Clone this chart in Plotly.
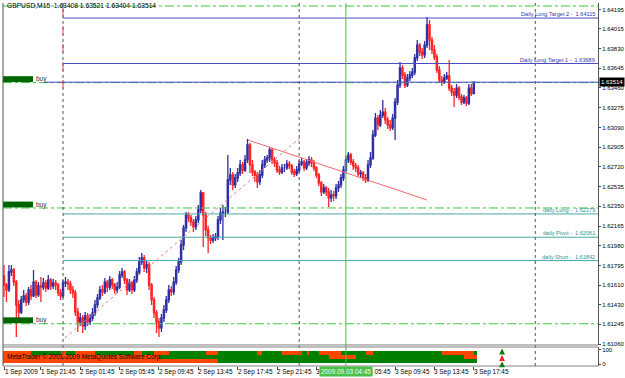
import plotly.graph_objects as go

# ---------------- data ----------------
first_open = 1.61698
close = [1.61613,1.61567,1.61735,1.61754,1.61641,1.61426,1.61360,1.61473,1.61511,1.61454,
         1.61567,1.61511,1.61641,1.61520,1.61604,1.61594,1.61632,1.61585,1.61660,1.61604,
         1.61632,1.61613,1.61539,1.61511,1.61632,1.61641,1.61623,1.61567,1.61539,1.61360,
         1.61267,1.61304,1.61230,1.61323,1.61267,1.61304,1.61351,1.61426,1.61492,1.61567,
         1.61548,1.61641,1.61594,1.61660,1.61613,1.61567,1.61594,1.61707,1.61735,1.61660,
         1.61567,1.61632,1.61567,1.61660,1.61735,1.61829,1.61867,1.61773,1.61801,1.61613,
         1.61473,1.61351,1.61267,1.61211,1.61304,1.61379,1.61473,1.61567,1.61548,1.61641,
         1.61754,1.61829,1.61988,1.62148,1.62269,1.62241,1.62204,1.62157,1.62223,1.62316,
         1.62476,1.62269,1.62129,1.62054,1.62035,1.62054,1.62063,1.62223,1.62288,1.62297,
         1.62297,1.62598,1.62644,1.62551,1.62616,1.62663,1.62738,1.62691,1.62785,1.62925,
         1.62738,1.62672,1.62644,1.62579,1.62644,1.62738,1.62785,1.62804,1.62879,1.62785,
         1.62757,1.62691,1.62672,1.62710,1.62710,1.62748,1.62729,1.62672,1.62654,1.62691,
         1.62748,1.62766,1.62710,1.62757,1.62785,1.62757,1.62710,1.62644,1.62570,1.62485,
         1.62523,1.62485,1.62429,1.62457,1.62448,1.62523,1.62551,1.62616,1.62691,1.62785,
         1.62832,1.62766,1.62729,1.62710,1.62654,1.62663,1.62616,1.62598,1.62738,1.62804,
         1.63019,1.63178,1.63113,1.63206,1.63234,1.63160,1.63113,1.63085,1.63178,1.63328,
         1.63487,1.63647,1.63581,1.63487,1.63553,1.63581,1.63609,1.63741,1.63862,1.63797,
         1.63769,1.63862,1.64050,1.63909,1.63816,1.63750,1.63628,1.63534,1.63515,1.63553,
         1.63572,1.63459,1.63422,1.63394,1.63459,1.63375,1.63328,1.63366,1.63319,1.63459,
         1.63408,1.63514]
high = [1.61801,1.61632,1.61801,1.61801,1.61773,1.61660,1.61473,1.61511,1.61567,1.61539,
        1.61594,1.61613,1.61754,1.61660,1.61641,1.61688,1.61679,1.61660,1.61707,1.61679,
        1.61669,1.61660,1.61632,1.61576,1.61660,1.61688,1.61669,1.61651,1.61604,1.61567,
        1.61398,1.61351,1.61332,1.61360,1.61351,1.61342,1.61398,1.61473,1.61529,1.61604,
        1.61613,1.61679,1.61660,1.61698,1.61679,1.61632,1.61641,1.61745,1.61773,1.61754,
        1.61679,1.61669,1.61651,1.61698,1.61773,1.61876,1.61914,1.61895,1.61848,1.61829,
        1.61632,1.61501,1.61379,1.61304,1.61342,1.61426,1.61511,1.61613,1.61604,1.61688,
        1.61792,1.61867,1.62035,1.62176,1.62297,1.62297,1.62269,1.62232,1.62260,1.62363,
        1.62504,1.62485,1.62297,1.62166,1.62082,1.62091,1.62101,1.62260,1.62335,1.62363,
        1.62344,1.62832,1.62710,1.62672,1.62654,1.62710,1.62785,1.62766,1.62832,1.62982,
        1.62944,1.62785,1.62691,1.62672,1.62691,1.62785,1.62823,1.62832,1.62906,1.62897,
        1.62813,1.62785,1.62729,1.62748,1.62748,1.62785,1.62776,1.62748,1.62701,1.62729,
        1.62785,1.62804,1.62785,1.62795,1.62823,1.62813,1.62785,1.62729,1.62663,1.62588,
        1.62560,1.62542,1.62523,1.62504,1.62495,1.62560,1.62588,1.62654,1.62729,1.62823,
        1.62860,1.62851,1.62795,1.62757,1.62738,1.62691,1.62682,1.62654,1.62785,1.62860,
        1.63066,1.63225,1.63206,1.63253,1.63347,1.63272,1.63188,1.63160,1.63216,1.63366,
        1.63534,1.63703,1.63675,1.63609,1.63591,1.63619,1.63647,1.63778,1.63909,1.63881,
        1.63834,1.63900,1.64125,1.64097,1.63937,1.63862,1.63778,1.63666,1.63572,1.63591,
        1.63609,1.63722,1.63487,1.63459,1.63497,1.63478,1.63403,1.63394,1.63384,1.63497,
        1.63497,1.63521]
low = [1.61501,1.61454,1.61548,1.61698,1.61604,1.61126,1.61286,1.61342,1.61445,1.61417,
       1.61426,1.61473,1.61501,1.61492,1.61501,1.61454,1.61567,1.61548,1.61567,1.61567,
       1.61576,1.61567,1.61511,1.61473,1.61492,1.61594,1.61567,1.61529,1.61492,1.61323,
       1.61173,1.61230,1.61164,1.61192,1.61230,1.61239,1.61276,1.61323,1.61398,1.61473,
       1.61511,1.61529,1.61548,1.61567,1.61576,1.61529,1.61539,1.61576,1.61679,1.61623,
       1.61520,1.61548,1.61529,1.61548,1.61632,1.61707,1.61801,1.61735,1.61726,1.61567,
       1.61426,1.61304,1.61164,1.61126,1.61173,1.61267,1.61351,1.61445,1.61511,1.61520,
       1.61613,1.61726,1.61801,1.61942,1.62110,1.62204,1.62166,1.62110,1.62129,1.62194,
       1.62288,1.61969,1.62073,1.61914,1.61998,1.62007,1.62026,1.62035,1.62185,1.62035,
       1.62251,1.62279,1.62551,1.62504,1.62523,1.62579,1.62635,1.62654,1.62672,1.62757,
       1.62663,1.62635,1.62579,1.62523,1.62551,1.62616,1.62710,1.62757,1.62766,1.62748,
       1.62720,1.62663,1.62644,1.62654,1.62672,1.62691,1.62701,1.62644,1.62626,1.62635,
       1.62663,1.62729,1.62682,1.62691,1.62729,1.62720,1.62682,1.62616,1.62542,1.62448,
       1.62467,1.62448,1.62344,1.62391,1.62401,1.62420,1.62485,1.62523,1.62588,1.62663,
       1.62757,1.62738,1.62691,1.62672,1.62626,1.62616,1.62588,1.62570,1.62579,1.62710,
       1.62785,1.63000,1.63066,1.63094,1.63178,1.63122,1.63075,1.63057,1.63066,1.62972,
       1.63300,1.63459,1.63544,1.63459,1.63469,1.63525,1.63553,1.63581,1.63713,1.63759,
       1.63731,1.63741,1.63834,1.63816,1.63778,1.63722,1.63600,1.63506,1.63478,1.63497,
       1.63534,1.63431,1.63384,1.63281,1.63366,1.63347,1.63300,1.63310,1.63291,1.63300,
       1.63384,1.63404]
open_ = [first_open] + close[:-1]
bars = list(range(len(close)))

title_text = "GBPUSD,M15  1.63408 1.63521 1.63404 1.63514"
last_price = 1.63514

price_ticks = [1.64195,1.64015,1.63830,1.63645,1.63460,1.63275,1.63090,1.62905,1.62720,
               1.62535,1.62350,1.62165,1.61980,1.61795,1.61610,1.61430,1.61245,1.61060]

time_label_bars = [0,15,31,47,63,79,95,111,127,143,159,175,191]
time_labels = ["1 Sep 2009","1 Sep 21:45","2 Sep 01:45","2 Sep 05:45","2 Sep 09:45",
               "2 Sep 13:45","2 Sep 17:45","2 Sep 21:45","3 Sep 01:45","3 Sep 05:45",
               "3 Sep 09:45","3 Sep 13:45","3 Sep 17:45"]

# pivot levels
blue_levels = [("Daily Long Target 2 -  1.64115", 1.64115), ("Daily Long Target 1 -  1.63689", 1.63689)]
teal_levels = [("daily Long -  1.62279", 1.62279), ("daily Pivot -  1.62061", 1.62061),
               ("daily Short -  1.61842", 1.61842)]
buy_levels = [1.63510, 1.62335, 1.61250]
top_level = 1.64228
levels_start_bar = 24

# vertical separators (bar index)
day_bars = [24, 120, 216]
cross_bar = 139
cross_label = "2009.09.03 04:45"

# trend lines: (bar0, price0, bar1, price1)
trend_solid = (99.2, 1.62972, 172.0, 1.62410)
trend_dotted = (24.8, 1.61117, 120.3, 1.62991)

# indicator rows: boundaries in bar index, colours alternate starting with first
row1_bounds = [-0.4, 11, 23, 25, 29, 37, 53, 56, 61, 67, 82, 87, 103, 105, 113, 121, 123, 124, 128, 137, 147, 150, 178, 191, 192.4]
row1_first = "orange"
row2_bounds = [-0.4, 63, 132, 143, 187, 192.4]
row2_first = "orange"
row3_bounds = [-0.4, 87, 192.4]
row3_first = "orange"
row_levels = [96, 50, 4]
signal_bar = 202.5
signal_colors = ["#008000", "#FF2020", "#008000"]

X0, X1 = -0.41, 241.5
Y0, Y1 = 1.61051, 1.64256

UP = "#2F2FA6"
DOWN = "#FF2424"
GREEN_IND = "#008000"
ORANGE_IND = "#FF4500"
FONT = "Liberation Sans"

fig = go.Figure()
fig.add_trace(go.Candlestick(
    x=bars, open=open_, high=high, low=low, close=close,
    increasing=dict(line=dict(color=UP, width=1.3), fillcolor=UP),
    decreasing=dict(line=dict(color=DOWN, width=1.3), fillcolor=DOWN),
    whiskerwidth=0, hoverinfo="skip", showlegend=False,
    xaxis="x", yaxis="y"))

# indicator bars
def row_trace(bounds, first, level):
    cols = []
    c = first
    for i in range(len(bounds) - 1):
        cols.append(ORANGE_IND if c == "orange" else GREEN_IND)
        c = "green" if c == "orange" else "orange"
    return go.Bar(orientation="h", base=bounds[:-1],
                  x=[b - a for a, b in zip(bounds[:-1], bounds[1:])],
                  y=[level] * (len(bounds) - 1), width=30,
                  marker=dict(color=cols, line=dict(width=0)),
                  hoverinfo="skip", showlegend=False, xaxis="x", yaxis="y2")

for b, f, lv in zip([row1_bounds, row2_bounds, row3_bounds],
                    [row1_first, row2_first, row3_first], row_levels):
    fig.add_trace(row_trace(b, f, lv))

shapes = []
# horizontal levels
shapes.append(dict(type="line", xref="x", yref="y", x0=X0, x1=X1, y0=top_level, y1=top_level,
                   line=dict(color="#3CC83C", width=1, dash="dashdot")))
for lv in buy_levels:
    shapes.append(dict(type="line", xref="x", yref="y", x0=X0, x1=X1, y0=lv, y1=lv,
                       line=dict(color="#3CC83C", width=1, dash="dashdot")))
    shapes.append(dict(type="rect", xref="x", yref="y", x0=X0, x1=11.8, y0=lv + 0.00005, y1=lv + 0.00060,
                       line=dict(width=0), fillcolor="#006400"))
for _, lv in blue_levels:
    shapes.append(dict(type="line", xref="x", yref="y", x0=levels_start_bar, x1=X1, y0=lv, y1=lv,
                       line=dict(color="#4A4AC4", width=1)))
shapes.append(dict(type="line", xref="x", yref="y", x0=16.5, x1=X1, y0=last_price, y1=last_price,
                   line=dict(color="#4A4AC4", width=1)))
for _, lv in teal_levels:
    shapes.append(dict(type="line", xref="x", yref="y", x0=levels_start_bar, x1=X1, y0=lv, y1=lv,
                       line=dict(color="#48A8A8", width=1)))

# vertical lines
for db in day_bars:
    shapes.append(dict(type="line", xref="x", yref="paper", x0=db, x1=db, y0=0, y1=1,
                       line=dict(color="#555555", width=1, dash="dot")))
shapes.append(dict(type="line", xref="x", yref="y", x0=day_bars[0], x1=day_bars[0], y0=1.63450, y1=Y1,
                   line=dict(color="#E05050", width=1, dash="dash")))
shapes.append(dict(type="line", xref="x", yref="paper", x0=cross_bar, x1=cross_bar, y0=0, y1=1,
                   line=dict(color="#3CC83C", width=1)))
# trend lines
b0, p0, b1, p1 = trend_solid
shapes.append(dict(type="line", xref="x", yref="y", x0=b0, x1=b1, y0=p0, y1=p1,
                   line=dict(color="#F06A6A", width=1)))
b0, p0, b1, p1 = trend_dotted
shapes.append(dict(type="line", xref="x", yref="y", x0=b0, x1=b1, y0=p0, y1=p1,
                   line=dict(color="#F08080", width=1, dash="dot")))
# frame
shapes.append(dict(type="line", xref="paper", yref="paper", x0=0, x1=0, y0=0, y1=1,
                   line=dict(color="#555555", width=1)))
shapes.append(dict(type="line", xref="paper", yref="paper", x0=0, x1=1, y0=0.0579, y1=0.0579,
                   line=dict(color="#808080", width=1)))
shapes.append(dict(type="line", xref="paper", yref="paper", x0=0, x1=1, y0=0.0523, y1=0.0523,
                   line=dict(color="#808080", width=1)))
shapes.append(dict(type="line", xref="paper", yref="paper", x0=0, x1=1, y0=0, y1=0,
                   line=dict(color="#808080", width=1)))

ann = []
ann.append(dict(xref="paper", yref="paper", x=0.003, y=0.992, xanchor="left", yanchor="middle",
                text=title_text, showarrow=False, font=dict(family=FONT, size=6.7, color="#000000")))
for txt, lv in blue_levels:
    ann.append(dict(xref="x", yref="y", x=241.2, y=lv, xanchor="right", yanchor="bottom",
                    text=txt, showarrow=False, yshift=-1,
                    font=dict(family=FONT, size=5.6, color="#3434A8")))
for txt, lv in teal_levels:
    ann.append(dict(xref="x", yref="y", x=241.2, y=lv, xanchor="right", yanchor="bottom",
                    text=txt, showarrow=False, yshift=-1,
                    font=dict(family=FONT, size=5.6, color="#2E9494")))
for lv in buy_levels:
    ann.append(dict(xref="x", yref="y", x=12.3, y=lv + 0.00032, xanchor="left", yanchor="middle",
                    text="buy", showarrow=False, font=dict(family=FONT, size=6.5, color="#333333")))
for b, t in zip(time_label_bars, time_labels):
    ann.append(dict(xref="paper", yref="paper", x=(b - 0.8 - X0) / (X1 - X0) if b > 0 else 0.0,
                    y=-0.0155, xanchor="left", yanchor="middle",
                    text=t, showarrow=False, font=dict(family=FONT, size=6.4, color="#000000")))
ann.append(dict(xref="x", yref="paper", x=cross_bar, y=-0.0155, xanchor="center", yanchor="middle",
                text=cross_label, showarrow=False, bgcolor="#49C049", borderpad=1,
                font=dict(family=FONT, size=6.4, color="#FFFFFF")))
ann.append(dict(xref="paper", yref="y", x=1.002, y=last_price, xanchor="left", yanchor="middle",
                text="1.63514", showarrow=False, bgcolor="#000000", borderpad=1,
                font=dict(family=FONT, size=6, color="#FFFFFF")))
ann.append(dict(xref="paper", yref="y2", x=0.003, y=row_levels[1], xanchor="left", yanchor="middle",
                text="MetaTrader © 2001-2009 MetaQuotes Software Corp.", showarrow=False,
                font=dict(family=FONT, size=6.5, color="#000000")))
# signal arrows (drawn as annotation arrows, no text)
for lv, col in zip(row_levels, signal_colors):
    ann.append(dict(xref="x", yref="y2", x=signal_bar, y=lv + 14, text="", showarrow=True,
                    ax=0, ay=6, arrowhead=2, arrowsize=0.9, arrowwidth=1.3, arrowcolor=col,
                    standoff=0, startstandoff=0))

fig.update_layout(
    width=625, height=378, margin=dict(l=3, r=27, t=3, b=12, autoexpand=False),
    paper_bgcolor="#FFFFFF", plot_bgcolor="#FFFFFF",
    showlegend=False, bargap=0,
    xaxis=dict(range=[X0, X1], anchor="y2", showgrid=False, zeroline=False, automargin=False,
               showticklabels=False, ticks="outside", ticklen=3, tickcolor="#444444",
               tickvals=time_label_bars, rangeslider=dict(visible=False), fixedrange=True),
    yaxis=dict(domain=[0.0579, 1], range=[Y0, Y1], side="right", showgrid=False, zeroline=False,
               automargin=False,
               tickvals=price_ticks, ticktext=[f"{v:.5f}" for v in price_ticks],
               ticks="outside", ticklen=2, tickcolor="#444444",
               showline=True, linecolor="#555555", linewidth=1,
               tickfont=dict(family=FONT, size=6, color="#000000")),
    yaxis2=dict(domain=[0, 0.0523], range=[-14, 121], side="right", showgrid=False, zeroline=False,
                automargin=False,
                tickvals=[0, 100], ticktext=["0", "100"], ticks="outside", ticklen=2,
                tickcolor="#444444", showline=True, linecolor="#555555", linewidth=1,
                tickfont=dict(family=FONT, size=6, color="#000000")),
    shapes=shapes, annotations=ann,
)

fig.write_html("out.html")
